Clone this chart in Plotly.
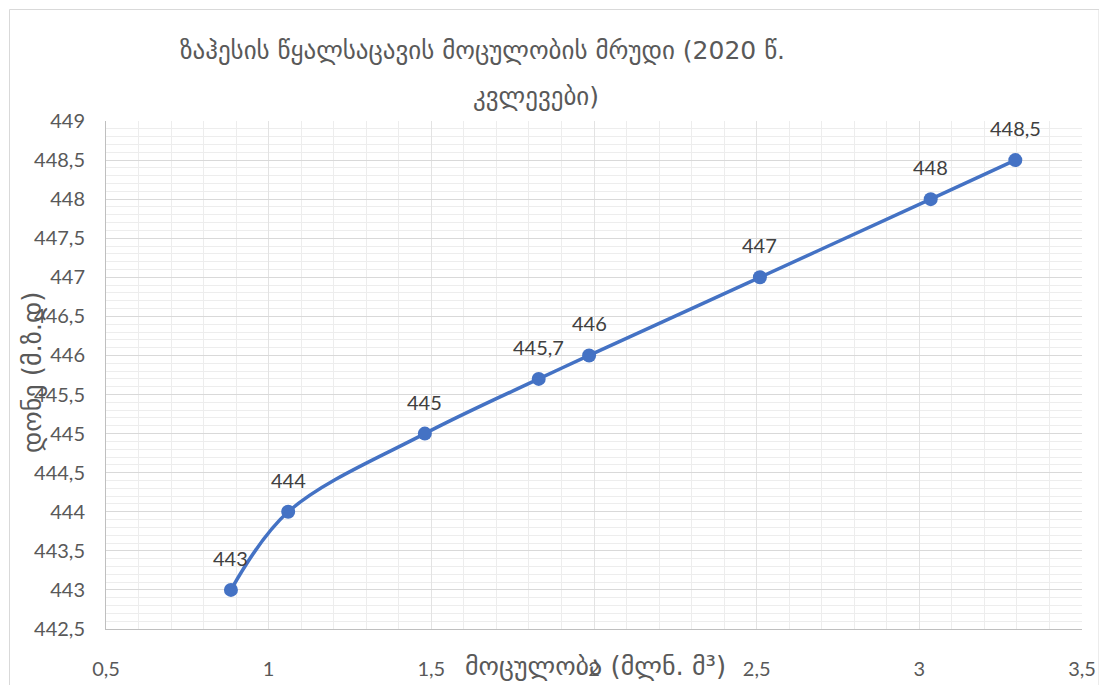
import plotly.graph_objects as go

volume = [0.884, 1.06, 1.48, 1.83, 1.985, 2.51, 3.035, 3.295]
level = [443, 444, 445, 445.7, 446, 447, 448, 448.5]
point_labels = ["443", "444", "445", "445,7", "446", "447", "448", "448,5"]

title_line1 = "ზაჰესის წყალსაცავის მოცულობის მრუდი (2020 წ."
title_line2 = "კვლევები)"
x_title = "მოცულობა (მლნ. მ³)"
y_title = "დონე (მ.ზ.დ)"

# page body has an 8px margin; figure coords are page coords minus 8
OFF = 8
W, H = 1107 - OFF, 685 - OFF
L, T = 106 - OFF, 121 - OFF
R = W - (1082 - OFF)
B = H - (629 - OFF)
pw, ph = W - L - R, H - T - B

def px_x(p):
    return (p - OFF - L) / pw

def px_y(p):
    return (H - B - (p - OFF)) / ph

text_col = "#595959"
font_fam = "Lato, 'Open Sans', 'DejaVu Sans', sans-serif"
geo_font = "'DejaVu Sans', 'Noto Sans', sans-serif"
line_col = "#4472C4"

fig = go.Figure()
fig.add_trace(go.Scatter(
    x=volume, y=level, mode="lines+markers",
    line=dict(color=line_col, width=3.5, shape="spline", smoothing=1),
    marker=dict(color=line_col, size=14),
    hoverinfo="skip", showlegend=False,
))

annotations = []
for xv, yv, t in zip(volume, level, point_labels):
    annotations.append(dict(x=xv, y=yv, xref="x", yref="y", text=t, showarrow=False,
                            yshift=32, font=dict(size=20, color="#404040", family=font_fam)))

annotations += [
    dict(x=px_x(482), y=px_y(50), xref="paper", yref="paper", text=title_line1, showarrow=False,
         font=dict(size=25, color=text_col, family=geo_font), xanchor="center", yanchor="middle"),
    dict(x=px_x(536), y=px_y(96), xref="paper", yref="paper", text=title_line2, showarrow=False,
         font=dict(size=25, color=text_col, family=geo_font), xanchor="center", yanchor="middle"),
    dict(x=px_x(595), y=px_y(666), xref="paper", yref="paper", text=x_title, showarrow=False,
         font=dict(size=26, color=text_col, family=geo_font), xanchor="center", yanchor="middle"),
    dict(x=px_x(32), y=px_y(373), xref="paper", yref="paper", text=y_title, showarrow=False,
         textangle=-90, font=dict(size=26, color=text_col, family=geo_font),
         xanchor="center", yanchor="middle"),
]

fig.update_layout(
    width=W, height=H,
    margin=dict(l=L, r=R, t=T, b=B, autoexpand=False),
    paper_bgcolor="white", plot_bgcolor="white",
    separators=", ",
    annotations=annotations,
    shapes=[dict(type="rect", xref="paper", yref="paper",
                 x0=px_x(9.5), x1=px_x(1099), y0=px_y(720), y1=px_y(9.5),
                 line=dict(color="#d9d9d9", width=1), fillcolor="rgba(0,0,0,0)", layer="below")],
)

fig.update_xaxes(
    range=[0.5, 3.5], tickmode="linear", tick0=0.5, dtick=0.5,
    showgrid=True, gridcolor="#e3e3e3", gridwidth=1,
    minor=dict(dtick=0.1, showgrid=True, gridcolor="#ededed", gridwidth=1),
    showline=True, linecolor="#bfbfbf", linewidth=1, mirror=False,
    zeroline=False, ticks="", ticklabelstandoff=22,
    tickfont=dict(size=20, color=text_col, family=font_fam),
)
fig.update_yaxes(
    range=[442.5, 449], tickmode="linear", tick0=442.5, dtick=0.5,
    showgrid=True, gridcolor="#d9d9d9", gridwidth=1,
    minor=dict(dtick=0.1, showgrid=True, gridcolor="#ededed", gridwidth=1),
    showline=True, linecolor="#bfbfbf", linewidth=1,
    zeroline=False, ticks="", ticklabelstandoff=16,
    tickfont=dict(size=20, color=text_col, family=font_fam),
)

fig.write_html("out.html")
